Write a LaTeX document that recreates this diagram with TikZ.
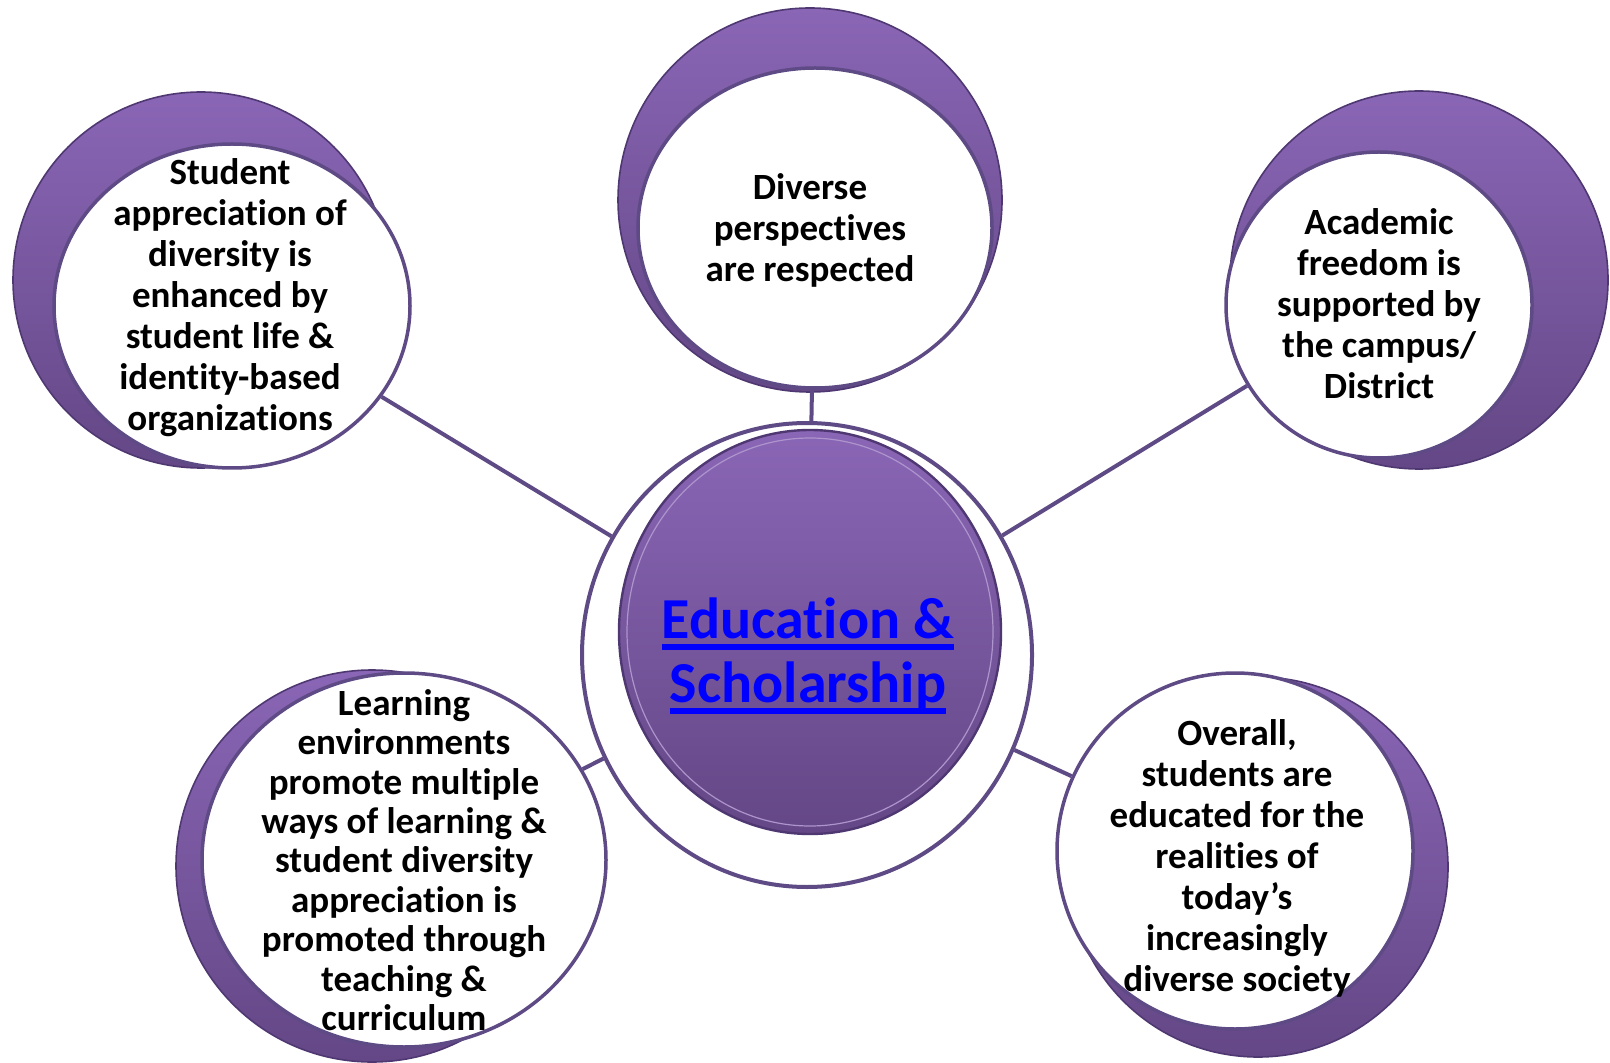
\documentclass[tikz,border=0pt]{standalone}
\usepackage{fontspec}
\setmainfont{Carlito}[Ligatures=NoCommon]
\usetikzlibrary{shapes.geometric}

\definecolor{linepurple}{HTML}{5E4A85}
\definecolor{lightpurple}{HTML}{8A66B6}
\definecolor{darkpurple}{HTML}{644786}
\definecolor{rimpurple}{HTML}{4F3872}
\definecolor{linkblue}{HTML}{0000FF}

\newcommand{\weblink}[1]{\setbox0=\hbox{#1}\rlap{\rule[-5.5pt]{\wd0}{3pt}}\box0}

\tikzset{
	backdisc/.style={circle, inner sep=0pt, top color=lightpurple, bottom color=darkpurple, draw=rimpurple, line width=0.8pt},
	facedisc/.style={ellipse, inner sep=0pt, fill=white, draw=linepurple, line width=1.75pt},
	facetext/.style={align=center, font=\bfseries\fontsize{18.5}{20.5}\selectfont},
	spoke/.style={draw=linepurple, line width=2pt}
}

\begin{document}
\begin{tikzpicture}[x=0.5pt, y=-0.5pt]

	\useasboundingbox (0,0) rectangle (1610,1063);

	% centre
	\node[ellipse, draw=linepurple, line width=2pt, fill=white, inner sep=0pt, minimum width=225pt, minimum height=232pt] (ring) at (807,655) {};
	\node[ellipse, inner sep=0pt, minimum width=191pt, minimum height=202pt, top color=lightpurple, bottom color=darkpurple, draw=rimpurple, line width=1.2pt] (hub) at (810,632) {};
	\draw[lightpurple!70!white, line width=0.6pt] (hub.center) ellipse (91.5pt and 97pt);
	\node[align=center, text=linkblue, font=\bfseries\fontsize{29}{32}\selectfont] (hublabel) at (808,656) {\weblink{Education \&}\\\weblink{Scholarship}};

	% satellites
	\node[backdisc, minimum size=192pt] (diverseback) at (810,200) {};
	\node[facedisc, minimum width=177pt, minimum height=160pt] (diverse) at (815,228) {};
	\node[facetext] (diverselabel) at (810,230) {Diverse\\perspectives\\are respected};

	\node[backdisc, minimum size=188pt] (studentback) at (201,280) {};
	\node[facedisc, minimum width=178pt, minimum height=162pt] (student) at (232,306) {};
	\node[facetext] (studentlabel) at (230,298) {Student\\appreciation of\\diversity is\\enhanced by\\student life \&\\identity-based\\organizations};

	\node[backdisc, minimum size=189pt] (freedomback) at (1419,280) {};
	\node[facedisc, minimum width=153pt, minimum height=153pt] (freedom) at (1379,305) {};
	\node[facetext] (freedomlabel) at (1379,304) {Academic\\freedom is\\supported by\\the campus/\\District};

	\node[backdisc, minimum size=196pt] (learningback) at (372,866) {};
	\node[facedisc, minimum width=202pt, minimum height=187pt] (learning) at (404,860) {};
	\node[facetext, font=\bfseries\fontsize{18.5}{19.7}\selectfont] (learninglabel) at (404,860) {Learning\\environments\\promote multiple\\ways of learning \&\\student diversity\\appreciation is\\promoted through\\teaching \&\\curriculum};

	\node[backdisc, minimum size=190pt] (societyback) at (1258,867) {};
	\node[facedisc, minimum width=178pt, minimum height=178pt] (society) at (1235,851) {};
	\node[facetext] (societylabel) at (1237,858) {Overall,\\students are\\educated for the\\realities of\\today’s\\increasingly\\diverse society};

	% spokes
	\draw[spoke] (diverse) -- (ring);
	\draw[spoke] (student) -- (ring);
	\draw[spoke] (freedom) -- (ring);
	\draw[spoke] (learning) -- (ring);
	\draw[spoke] (society) -- (ring);

\end{tikzpicture}
\end{document}
